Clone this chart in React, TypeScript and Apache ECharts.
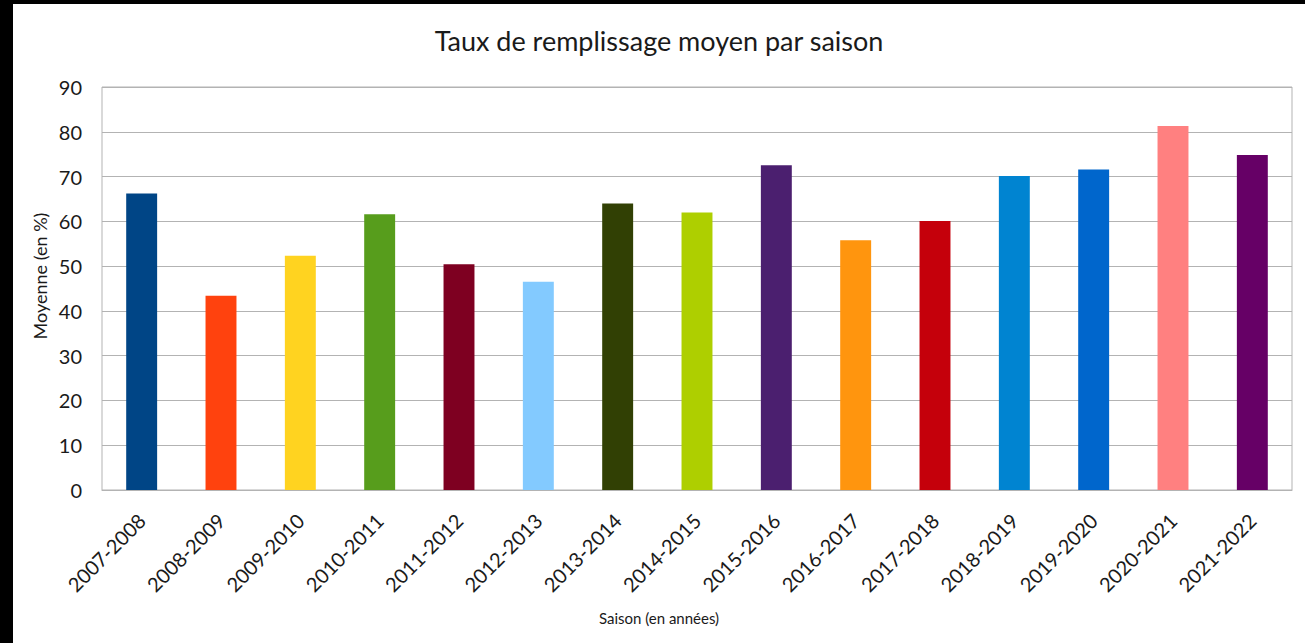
import React, { useEffect, useRef } from "react";
import * as echarts from "echarts";

const seasons = [
  "2007-2008", "2008-2009", "2009-2010", "2010-2011", "2011-2012",
  "2012-2013", "2013-2014", "2014-2015", "2015-2016", "2016-2017",
  "2017-2018", "2018-2019", "2019-2020", "2020-2021", "2021-2022",
];
const moyennes = [66.2, 43.4, 52.3, 61.6, 50.4, 46.5, 64.0, 62.0, 72.5, 55.8, 60.1, 70.1, 71.6, 81.3, 74.8];
const barColors = [
  "#004586", "#ff420e", "#ffd320", "#579d1c", "#7e0021",
  "#83caff", "#314004", "#aecf00", "#4b1f6f", "#ff950e",
  "#c5000b", "#0084d1", "#0066cc", "#ff8080", "#660066",
];
const yTicks = { min: 0, max: 90, interval: 10 };
const titleText = "Taux de remplissage moyen par saison";
const xAxisTitle = "Saison (en années)";
const yAxisTitle = "Moyenne (en %)";

const FONT = "Lato, 'Open Sans', sans-serif";

export default function App() {
  const ref = useRef<HTMLDivElement>(null);
  useEffect(() => {
    if (!ref.current) return;
    const chart = echarts.init(ref.current, null, { renderer: "svg" });
    chart.setOption({
      animation: false,
      backgroundColor: "#ffffff",
      textStyle: { fontFamily: FONT },
      title: [
        {
          text: titleText,
          left: "center",
          top: 18,
          textStyle: { fontFamily: FONT, fontSize: 27, fontWeight: "normal", color: "#1a1a1a" },
        },
        {
          text: xAxisTitle,
          left: "center",
          top: 601,
          textStyle: { fontFamily: FONT, fontSize: 15, fontWeight: "normal", color: "#1a1a1a" },
        },
      ],
      graphic: [
        {
          type: "text",
          x: 27,
          y: 272,
          rotation: Math.PI / 2,
          style: {
            text: yAxisTitle,
            fontFamily: FONT,
            fontSize: 18,
            fill: "#1a1a1a",
            align: "center",
            verticalAlign: "middle",
          },
        },
      ],
      grid: {
        left: 89,
        right: 13,
        top: 83,
        bottom: 153,
        show: true,
        borderColor: "#b3b3b3",
        borderWidth: 1,
      },
      xAxis: {
        type: "category",
        data: seasons,
        axisLine: { show: true, lineStyle: { color: "#b3b3b3" } },
        axisTick: { show: false },
        axisLabel: {
          rotate: 45,
          interval: 0,
          margin: 27,
          fontFamily: FONT,
          fontSize: 20,
          color: "#1a1a1a",
        },
      },
      yAxis: {
        type: "value",
        min: yTicks.min,
        max: yTicks.max,
        interval: yTicks.interval,
        axisLine: { show: false },
        axisTick: { show: false },
        splitLine: { show: true, lineStyle: { color: "#b3b3b3", width: 1 } },
        axisLabel: { margin: 20, fontFamily: FONT, fontSize: 20, color: "#1a1a1a" },
      },
      series: [
        {
          type: "bar",
          data: moyennes.map((v, i) => ({ value: v, itemStyle: { color: barColors[i] } })),
          barWidth: "39%",
        },
      ],
    });
    return () => chart.dispose();
  }, []);
  return (
    <div style={{ position: "fixed", left: 0, top: 0, width: 1305, height: 643, background: "#000" }}>
      <div
        ref={ref}
        style={{ position: "absolute", left: 13, top: 4, width: 1292, height: 639, background: "#fff" }}
      />
    </div>
  );
}
